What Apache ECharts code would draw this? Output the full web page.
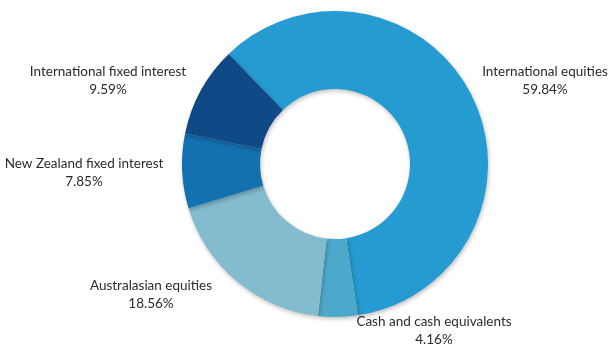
<!DOCTYPE html>
<html>
<head>
<meta charset="utf-8">
<script src="https://cdn.jsdelivr.net/npm/echarts@6/dist/echarts.min.js"></script>
<style>
  html, body { margin: 0; padding: 0; background: #fff; }
  #chart { width: 612px; height: 353px; }
</style>
</head>
<body>
<div id="chart"></div>
<script>
// slices, clockwise from the top-left edge
const categories = [
  'International equities',
  'Cash and cash equivalents',
  'Australasian equities',
  'New Zealand fixed interest',
  'International fixed interest'
]
const shares = [59.84, 4.16, 18.56, 7.85, 9.59]

const colors = ['#259bd1', '#4da9cb', '#83bccf', '#1371b0', '#0f4a86']
// label centres (px)
const labelSpots = [
  [545, 81], [434, 331], [151, 295], [84, 173], [108, 81]
]

const chart = echarts.init(document.getElementById('chart'))
chart.setOption({
  backgroundColor: '#ffffff',
  color: colors,
  series: [{
    type: 'pie',
    center: [335, 164],
    radius: [75, 153],
    startAngle: 134,
    clockwise: true,
    animation: false,
    itemStyle: {
      shadowBlur: 4,
      shadowOffsetX: 1,
      shadowOffsetY: 2,
      shadowColor: 'rgba(0,0,0,0.25)'
    },
    label: {
      show: true,
      position: 'outside',
      overflow: 'none',
      fontFamily: 'Lato',
      fontSize: 13.5,
      lineHeight: 18,
      color: '#2b2b2b',
      align: 'center',
      formatter: p => p.name + '\n' + p.value.toFixed(2) + '%'
    },
    labelLine: { show: false },
    labelLayout: p => ({
      x: labelSpots[p.dataIndex][0],
      y: labelSpots[p.dataIndex][1],
      align: 'center',
      verticalAlign: 'middle'
    }),
    emphasis: { disabled: true },
    data: categories.map((c, i) => ({ name: c, value: shares[i] }))
  }]
})
</script>
</body>
</html>
